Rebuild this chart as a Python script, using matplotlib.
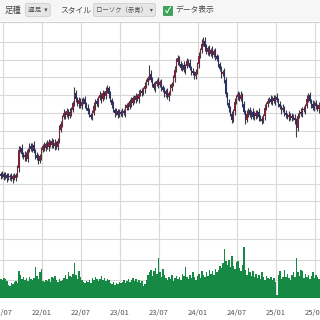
import numpy as np
import matplotlib
matplotlib.use('Agg')
from matplotlib import pyplot as plt
from matplotlib.patches import Rectangle

plt.rcParams['font.family'] = ['Noto Sans CJK JP', 'DejaVu Sans']

# 週足の終値（ピクセルから読み取った相対値）
close = [124,126,123,125,122,124,123,121,124,122,
         125,132,150,152,146,143,145,141,150,154,
         151,155,149,145,142,139,144,150,154,152,
         156,153,158,155,159,154,157,153,159,170,
         176,183,187,185,189,184,188,190,197,207,
         201,196,200,194,198,201,196,192,189,185,
         183,187,194,199,196,202,205,201,207,204,
         209,212,206,200,195,190,187,189,185,188,
         186,189,187,192,195,193,199,197,202,200,
         204,201,206,209,207,211,214,218,222,226,
         220,216,212,216,219,215,218,213,210,206,
         209,203,207,212,216,222,230,238,242,236,
         232,235,230,234,239,237,232,229,227,224,
         228,236,244,250,256,259,253,248,252,246,
         250,245,249,244,241,236,231,226,228,220,
         206,197,192,186,180,189,198,203,206,201,
         205,196,188,180,186,190,185,188,183,187,
         184,188,183,181,179,184,192,196,199,201,
         198,202,199,203,200,196,193,190,192,187,
         185,183,185,182,184,182,180,172,184,188,
         186,191,190,194,201,205,199,196,192,197,
         194,191,195]

# ヒゲの長さ
wick_hi = ("2323232423" "2342424323" "3242342324" "2432324235" "3242324326"
           "3232423243" "2342324232" "4323242323" "2324232423" "3242324329"
           "4323242323" "2324234432" "3242324232" "3242544323" "2423242324"
           "3242324232" "4232423242" "3242324232" "4232423242" "3242324232"
           "4232423242" "323")
wick_lo = ("3232423242" "3242324232" "2324232423" "3242324232" "2324232423"
           "3242324232" "2324232423" "3242324232" "2324232423" "3242324232"
           "2324232423" "3242324232" "2324232423" "3242324232" "2324232423"
           "3242324232" "2324232423" "3242324232" "2324232423" "3242324932"
           "2324232423" "324")

# 出来高
volume = [18,17,19,18,16, 12,11,14,13, 15,16,14, 25,22,
          18,20,17,19,16,20,18,17,19, 29, 21,18,24, 27,
          16,15,17,16,18,15, 20,19,21, 17,15,18,16,17,
          19,22,18,24,21, 20, 23, 33, 22,18,25,20,17,
          15,14,16,15,17,14, 19,17,20,18,16, 18,21,17,19,16,18,17,
          14,13,15,12,14,13,15,14, 15,17,14,16,18,15,17,19,16,
          18,15,17,14,16,11,13,17, 22,24,26,21,25,28, 23, 38,
          24,20,27,22,19, 17,20,18,22,16,19,21,18,20,17,
          23,21,29,20, 18,22,19,24,20,17,
          21,23,19,25,22,20,24,21,26,23, 25,22,27,24,26,
          30,28,33, 46, 35,31,36,29, 39, 30,27,34, 35, 28,25,31, 48,
          26,22,28,24,21,25,20,23, 19,22,18,24,20,17,21,19,
          18,20,17,19,15, 3, 22,25,18,20, 26,
          20,23,19,17,22,24,20, 38, 24,21,26,25,19,23,20,22,
          18,21,24,19,22,20,18]

tick_labels = ['21/07', '22/01', '22/07', '23/01', '23/07',
               '24/01', '24/07', '25/01', '25/07']

close = np.array(close, dtype=float)
opens = np.r_[close[0] + 2, close[:-1]]
hi = np.maximum(opens, close) + np.array([int(c) for c in wick_hi])
lo = np.minimum(opens, close) - np.array([int(c) for c in wick_lo])
x = np.arange(len(close))
up = close >= opens
colors = np.where(up, '#7c2433', '#27306a')

tick_pos = 1.5 + 26 * np.arange(len(tick_labels))
grid_c = '#d8d8d8'

fig = plt.figure(figsize=(3.2, 3.2), dpi=100)
fig.patch.set_facecolor('white')

# ヘッダー
fig.patches.append(Rectangle((0, 1 - 21/320), 1, 21/320, transform=fig.transFigure,
                             fc='#f6f6f6', ec='none', zorder=0))
fig.add_artist(plt.Line2D([0, 1], [1 - 21.5/320] * 2, transform=fig.transFigure,
                          color='#d0d0d0', lw=0.8))
ty = 1 - 10/320
fig.text(5/320, ty, '足種', fontsize=6, color='#444444', va='center')
fig.text(28/320, ty, '週足  ▾', fontsize=4.8, color='#555555', va='center',
         bbox=dict(boxstyle='round,pad=0.4', fc='#e6e6e6', ec='#cfcfcf', lw=0.6))
fig.text(60/320, ty, 'スタイル', fontsize=5.6, color='#444444', va='center')
fig.text(96/320, ty, 'ローソク（赤青）  ▾', fontsize=4.6, color='#555555', va='center',
         bbox=dict(boxstyle='round,pad=0.4', fc='#e6e6e6', ec='#cfcfcf', lw=0.6))
fig.patches.append(Rectangle((163/320, ty - 4.5/320), 9/320, 9/320, transform=fig.transFigure,
                             fc='#3aa55a', ec='#2e8b4a', lw=0.5))
fig.text(167.5/320, ty, '✓', fontsize=6, color='white', ha='center', va='center',
         fontweight='bold')
fig.text(175/320, ty, 'データ表示', fontsize=5.6, color='#444444', va='center')

# ローソク足
ax = fig.add_axes([0, 88/320, 1, 210/320])
ax.vlines(x, lo, hi, color='#3a3a4a', lw=0.8, zorder=2)
ax.bar(x, np.maximum(np.abs(close - opens), 1.5), bottom=np.minimum(opens, close),
       width=1.0, color=colors, lw=0, zorder=3)
ax.set_xlim(-0.5, 212.83)
ax.set_ylim(68, 278)
ax.set_xticks(tick_pos)
ax.set_yticks(258 - 17.7 * np.arange(11))
ax.grid(True, color=grid_c, lw=0.8)
ax.set_axisbelow(True)
ax.tick_params(length=0, labelbottom=False, labelleft=False)
for s in ax.spines.values():
    s.set_visible(False)

# 出来高
axv = fig.add_axes([0, 22/320, 1, 66/320])
axv.bar(np.arange(len(volume)), volume, width=1.0, color='#168a44', lw=0, zorder=3)
axv.set_xlim(-0.5, 212.83)
axv.set_ylim(0, 62)
axv.set_xticks(tick_pos)
axv.set_xticklabels(tick_labels, fontsize=5.5, color='#555555')
axv.set_yticks([17, 36, 55])
axv.grid(True, color=grid_c, lw=0.8)
axv.set_axisbelow(True)
axv.tick_params(length=0, labelleft=False, pad=8)
for s in axv.spines.values():
    s.set_visible(False)

fig.savefig('out.png', dpi=100)
